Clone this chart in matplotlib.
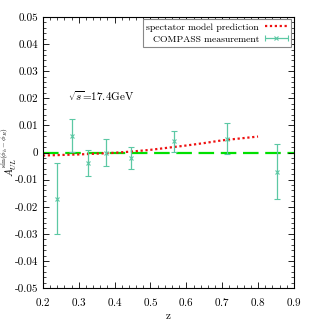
import numpy as np
import matplotlib
matplotlib.use("Agg")
import matplotlib.pyplot as plt
from matplotlib.ticker import MultipleLocator
from matplotlib.legend_handler import HandlerErrorbar

plt.rcParams['font.family'] = 'serif'
plt.rcParams['font.serif'] = ['cmr10']
plt.rcParams['mathtext.fontset'] = 'cm'
plt.rcParams['axes.formatter.use_mathtext'] = True

# COMPASS data
z_data = [0.240, 0.280, 0.327, 0.377, 0.447, 0.566, 0.714, 0.853]
a_data = [-0.0170, 0.0062, -0.0039, 0.0000, -0.0020, 0.0041, 0.0051, -0.0070]
a_err = [0.0131, 0.0060, 0.0049, 0.0050, 0.0041, 0.0040, 0.0058, 0.0101]

# spectator model curve
z_model = [0.20, 0.25, 0.30, 0.35, 0.40, 0.45, 0.50, 0.55, 0.60, 0.65, 0.70, 0.75, 0.80]
a_model = [-0.0011, -0.0009, -0.0007, -0.0004, -0.0001, 0.0004, 0.0010, 0.0018,
           0.0026, 0.0035, 0.0045, 0.0052, 0.0059]

y_ticks = [-0.05, -0.04, -0.03, -0.02, -0.01, 0, 0.01, 0.02, 0.03, 0.04, 0.05]

teal = '#5cc8a4'

fig = plt.figure(figsize=(3.11, 3.27), dpi=100)
ax = fig.add_axes([0.138, 0.119, 0.807, 0.829])

ax.axhline(0, color='#00e000', lw=1.6, ls=(0, (7, 3)), zorder=1)
model_line, = ax.plot(z_model, a_model, color='#ee1111', lw=1.6, ls=(0, (1, 1.2)),
                      zorder=2)
ax.errorbar(z_data, a_data, yerr=a_err, fmt='x', color=teal, ms=3,
            mew=0.8, elinewidth=0.9, capsize=2, capthick=0.9, zorder=3)

# legend sample drawn gnuplot style (horizontal bar)
proxy = ax.errorbar([np.nan], [np.nan], xerr=[np.nan], fmt='x', color=teal, ms=3,
                    mew=0.8, elinewidth=0.9, capsize=2, capthick=0.9)

ax.set_xlim(0.2, 0.9)
ax.set_ylim(-0.05, 0.05)
ax.xaxis.set_major_locator(MultipleLocator(0.1))
ax.xaxis.set_minor_locator(MultipleLocator(0.02))
ax.yaxis.set_minor_locator(MultipleLocator(0.002))
ax.set_yticks(y_ticks)
ax.set_yticklabels(['%g' % v for v in y_ticks])
ax.tick_params(which='both', direction='in', top=True, right=True, labelsize=8)
ax.tick_params(axis='x', pad=6)
ax.tick_params(which='major', length=4, width=0.6)
ax.tick_params(which='minor', length=2, width=0.5)
for s in ax.spines.values():
    s.set_linewidth(0.8)

ax.set_xlabel('z', fontsize=8, labelpad=2)
fig.text(0.03, 0.535, r'$A_{UL}^{\sin(\phi_h-\phi_R)}$', fontsize=7.5,
         rotation=90, ha='center', va='center')
ax.text(0.27, 0.019, r'$\sqrt{s}$=17.4GeV', fontsize=8)

leg = ax.legend([model_line, proxy],
                ['spectator model prediction', 'COMPASS measurement'],
                handler_map={proxy: HandlerErrorbar(xerr_size=1.15)},
                loc='upper right', markerfirst=False, fontsize=7, frameon=True,
                fancybox=False, edgecolor='#888888', framealpha=1,
                borderaxespad=0.25, handlelength=2.4, handletextpad=0.6,
                borderpad=0.35, labelspacing=0.35)
leg.get_frame().set_linewidth(0.8)

fig.savefig('out.png', dpi=100)
